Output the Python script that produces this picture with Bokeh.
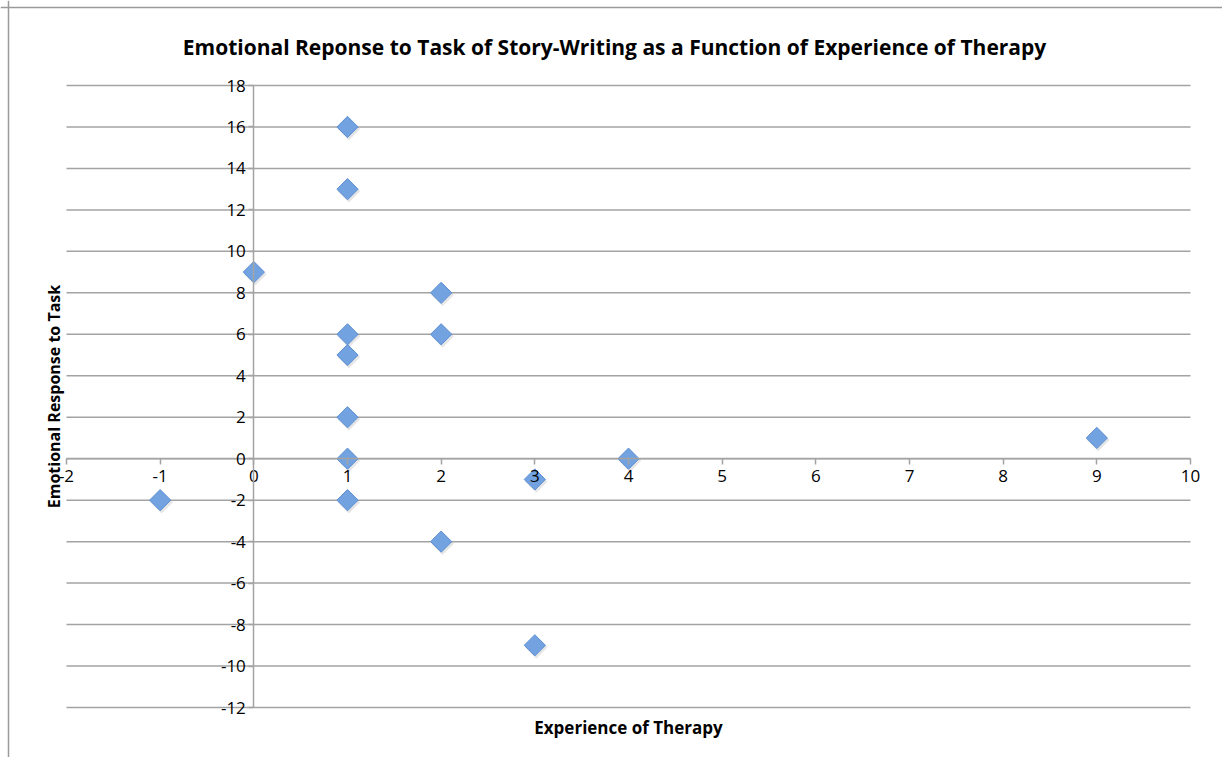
from math import pi
from bokeh.plotting import figure
from bokeh.models import Range1d, FixedTicker, Label, ColumnDataSource, Span
from bokeh.transform import dodge
from bokeh.embed import file_html
from bokeh.resources import INLINE

# ---- data ----
experience = [1, 1, 0, 2, 1, 2, 1, 1, 1, 4, 9, 3, -1, 1, 2, 3]
emotional = [16, 13, 9, 8, 6, 6, 5, 2, 0, 0, 1, -1, -2, -2, -4, -9]
x_ticks = [-2, -1, 0, 1, 2, 3, 4, 5, 6, 7, 8, 9, 10]
x_labels = ["-2", "-1", "0", "1", "2", "3", "4", "5", "6", "7", "8", "9", "10"]
y_ticks = [-12, -10, -8, -6, -4, -2, 0, 2, 4, 6, 8, 10, 12, 14, 16, 18]
y_labels = ["-12", "-10", "-8", "-6", "-4", "-2", "0", "2", "4", "6", "8", "10", "12", "14", "16", "18"]
title_text = "Emotional Reponse to Task of Story-Writing as a Function of Experience of Therapy"
x_title = "Experience of Therapy"
y_title = "Emotional Response to Task"

FONT = "Open Sans"
GRID = "#a3a3a3"

# ---- layout (pixels on the canvas) ----
W, H = 1222, 757
PL, PR, PT, PB = 66, 1190, 85, 707      # plot area edges
xmin, xmax = x_ticks[0], x_ticks[-1]
ymin, ymax = y_ticks[0], y_ticks[-1]
xs = (PR - PL) / (xmax - xmin)
ys = (PB - PT) / (ymax - ymin)
x_range = Range1d(xmin - PL / xs, xmax + (W - PR) / xs)
y_range = Range1d(ymin - (H - PB) / ys, ymax + PT / ys)

p = figure(width=W, height=H, output_backend="svg", toolbar_location=None,
           x_range=x_range, y_range=y_range,
           min_border_left=0, min_border_top=0, min_border_right=0, min_border_bottom=0)
p.outline_line_color = None
p.background_fill_color = "white"
p.border_fill_color = "white"
p.xgrid.visible = False
p.ygrid.visible = False

# outer chart border (left and top)
p.add_layout(Span(location=xmin - (PL - 8) / xs, dimension="height", line_color="#9a9a9a", line_width=1.5))
p.add_layout(Span(location=ymax + (PT - 7) / ys, dimension="width", line_color="#9a9a9a", line_width=1.5))

# horizontal gridlines
p.segment(x0=[xmin] * len(y_ticks), x1=[xmax] * len(y_ticks), y0=y_ticks, y1=y_ticks,
          line_color=GRID, line_width=1.5)

for ax in (p.xaxis, p.yaxis):
    ax.axis_line_color = GRID
    ax.axis_line_width = 1.5
    ax.major_tick_line_color = GRID
    ax.major_tick_line_width = 1.5
    ax.minor_tick_line_color = None
    ax.major_tick_in = 0
    ax.major_label_text_font = FONT
    ax.major_label_text_font_size = "17px"
    ax.major_label_text_color = "black"

p.xaxis.ticker = FixedTicker(ticks=x_ticks)
p.yaxis.ticker = FixedTicker(ticks=y_ticks)
p.xaxis.major_label_overrides = {t: s for t, s in zip(x_ticks, x_labels)}
p.yaxis.major_label_overrides = {t: s for t, s in zip(y_ticks, y_labels)}
p.xaxis.bounds = (xmin, xmax)
p.yaxis.bounds = (ymin, ymax)
p.xaxis.fixed_location = 0
p.yaxis.fixed_location = 0
p.xaxis.major_tick_out = 6
p.xaxis.major_label_standoff = 5
p.yaxis.major_tick_out = 5
p.yaxis.major_label_standoff = 3

src = ColumnDataSource(dict(x=experience, y=emotional))
# soft shadow
p.scatter(x=dodge("x", 0.015, range=p.x_range), y=dodge("y", -0.1, range=p.y_range), source=src,
          marker="square", angle=pi / 4, size=16, fill_color="#000000", fill_alpha=0.10,
          line_color=None)
p.scatter(x="x", y="y", source=src, marker="square", angle=pi / 4, size=15,
          fill_color="#72a3e0", line_color="#5d8fd4", line_width=1)

p.add_layout(Label(x=614, y=H - 46, x_units="screen", y_units="screen", text=title_text,
                   text_font=FONT, text_font_size="21px", text_font_style="bold",
                   text_align="center", text_baseline="middle", text_color="black"))
p.add_layout(Label(x=(PL + PR) / 2, y=H - 727, x_units="screen", y_units="screen", text=x_title,
                   text_font=FONT, text_font_size="17px", text_font_style="bold",
                   text_align="center", text_baseline="middle", text_color="black"))
p.add_layout(Label(x=53, y=H - (PT + PB) / 2, x_units="screen", y_units="screen", text=y_title,
                   angle=pi / 2, text_font=FONT, text_font_size="16px", text_font_style="bold",
                   text_align="center", text_baseline="middle", text_color="black"))

open("out.html", "w").write(file_html(p, INLINE))
